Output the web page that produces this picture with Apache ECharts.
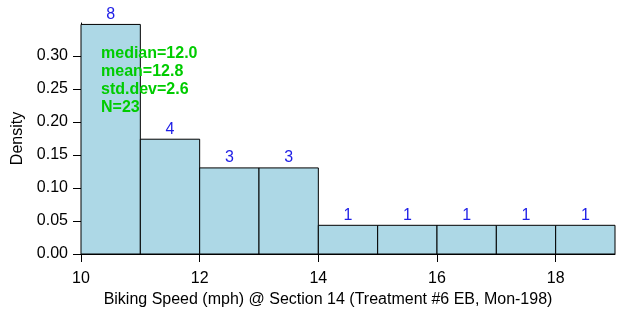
<!DOCTYPE html>
<html><head><meta charset="utf-8">
<script src="https://cdn.jsdelivr.net/npm/echarts@6/dist/echarts.min.js"></script>
<style>html,body{margin:0;padding:0;background:#fff}#c{width:622px;height:322px}</style>
</head><body><div id="c"></div>
<script>
const binStarts = [10, 11, 12, 13, 14, 15, 16, 17, 18];
const binWidth = 1;
const counts = [8, 4, 3, 3, 1, 1, 1, 1, 1];
const xTicks = [10, 12, 14, 16, 18];
const yTicks = [0, 0.05, 0.10, 0.15, 0.20, 0.25, 0.30];
const statsLines = ['median=12.0', 'mean=12.8', 'std.dev=2.6', 'N=23'];
const xTitle = 'Biking Speed (mph) @ Section 14 (Treatment #6 EB, Mon-198)';
const yTitle = 'Density';

const N = counts.reduce((a, b) => a + b, 0);
const data = binStarts.map((s, i) => [s, s + binWidth, counts[i] / (N * binWidth), counts[i]]);
const font = '"Liberation Sans", Arial, sans-serif';

const chart = echarts.init(document.getElementById('c'), null, {renderer: 'canvas'});
chart.setOption({
  animation: false,
  grid: {left: 81, right: 7, top: 23, bottom: 68},
  xAxis: {
    type: 'value', min: 10, max: 19, interval: 2,
    name: xTitle, nameLocation: 'middle', nameGap: 32,
    nameTextStyle: {fontFamily: font, fontSize: 16, color: '#000', padding: [0, 40, 0, 0]},
    axisLine: {show: true, lineStyle: {color: '#000', width: 1}},
    axisTick: {show: true, length: 8, lineStyle: {color: '#000'}, customValues: xTicks},
    axisLabel: {fontFamily: font, fontSize: 16, color: '#000', margin: 17, customValues: xTicks},
    splitLine: {show: false}
  },
  yAxis: {
    type: 'value', min: 0, max: 0.35, interval: 0.05,
    name: yTitle, nameLocation: 'middle', nameGap: 51,
    nameTextStyle: {fontFamily: font, fontSize: 16, color: '#000'},
    axisLine: {show: true, lineStyle: {color: '#000', width: 1}},
    axisTick: {show: true, length: 8, lineStyle: {color: '#000'}, customValues: yTicks},
    axisLabel: {fontFamily: font, fontSize: 16, color: '#000', margin: 13, customValues: yTicks,
      padding: [4, 0, 0, 0], formatter: v => v.toFixed(2)},
    splitLine: {show: false}
  },
  series: [{
    type: 'custom',
    clip: false,
    data: data,
    encode: {x: [0, 1], y: 2},
    renderItem: function (params, api) {
      const p0 = api.coord([api.value(0), api.value(2)]);
      const p1 = api.coord([api.value(1), 0]);
      return {
        type: 'group',
        children: [{
          type: 'rect',
          shape: {x: p0[0], y: p0[1], width: p1[0] - p0[0], height: p1[1] - p0[1]},
          style: {fill: '#ADD8E6', stroke: '#000', lineWidth: 1}
        }, {
          type: 'text',
          style: {
            x: (p0[0] + p1[0]) / 2, y: p0[1] - 2,
            text: String(api.value(3)),
            fill: '#1e1ee6', font: '16px ' + font,
            textAlign: 'center', textVerticalAlign: 'bottom'
          }
        }]
      };
    }
  }],
  graphic: statsLines.map((t, i) => ({
    type: 'text', left: 101, top: 46 + i * 18, z: 10,
    style: {text: t, fill: '#00cc00', font: 'bold 16px ' + font}
  }))
});
</script></body></html>
